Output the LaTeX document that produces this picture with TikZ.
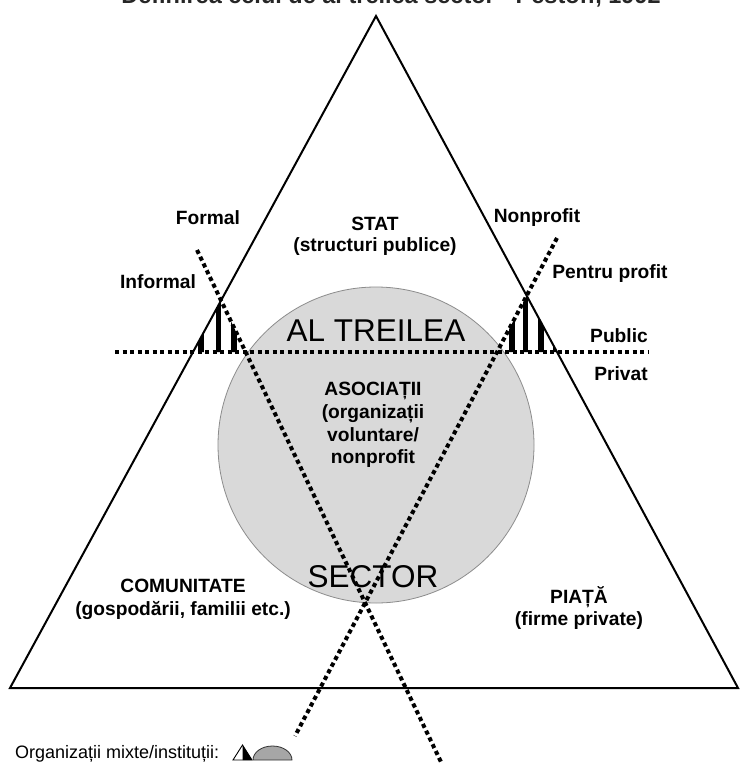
\documentclass[tikz,border=0pt]{standalone}
\usepackage{fontspec}
\setmainfont{Liberation Sans}
\definecolor{circfill}{HTML}{D9D9D9}
\definecolor{circline}{HTML}{8C8C8C}
\definecolor{iconfill}{HTML}{A6A6A6}
\begin{document}
\begin{tikzpicture}[x=1pt,y=-1pt,
  lbl/.style={font=\fontsize{19.2}{22}\selectfont\bfseries, inner sep=0pt, anchor=base},
  big/.style={font=\fontsize{31.5}{34}\selectfont, inner sep=0pt, anchor=base},
  dotline/.style={line width=4pt, dash pattern=on 4.2pt off 3.3pt, black},
  sideline/.style={line width=2pt, black, line join=miter},
  stripe/.style={line width=5.5pt, black}]
\useasboundingbox (0,0) rectangle (740,775);
\fill[white] (0,0) rectangle (740,775);

% corners of the big triangle
\coordinate (apex) at (376,16);
\coordinate (bl) at (10,688);
\coordinate (br) at (738,688);
% dividers: formal/informal, nonprofit/for profit, public/private
\coordinate (fa) at (197,250);
\coordinate (fb) at (441,762);
\coordinate (na) at (557,238);
\coordinate (nb) at (295,736);
\coordinate (pa) at (115,352);
\coordinate (pb) at (648,352);

% the third sector
\fill[circfill] (376,445) circle [radius=158pt];
\draw[circline, line width=0.8pt] (376,445) circle [radius=158pt];

% the big triangle
\draw[sideline] (apex) -- (bl) -- (br) -- cycle;

% hatched corners: mixed organisations
\coordinate (lh) at (intersection of apex--bl and fa--fb);
\coordinate (lhl) at (intersection of apex--bl and pa--pb);
\coordinate (lhr) at (intersection of fa--fb and pa--pb);
\begin{scope}
  \clip (lh) -- (lhl) -- (lhr) -- cycle;
  \foreach \x in {201,218.5,234}
    \draw[stripe] (\x,280) -- (\x,360);
\end{scope}
\coordinate (rh) at (intersection of apex--br and na--nb);
\coordinate (rhl) at (intersection of na--nb and pa--pb);
\coordinate (rhr) at (intersection of apex--br and pa--pb);
\begin{scope}
  \clip (rh) -- (rhl) -- (rhr) -- cycle;
  \foreach \x in {512,525.5,541,556}
    \draw[stripe] (\x,280) -- (\x,360);
\end{scope}

% dotted dividers
\draw[dotline] (pa) -- (pb);
\draw[dotline] (fa) -- (fb);
\draw[dotline] (na) -- (nb);

% title
\node[font=\fontsize{23.5}{26}\selectfont\bfseries, inner sep=0pt, anchor=base, text=black!85] (title) at (391,4) {Definirea celui de al treilea sector - Pestoff, 1992};

% labels
\node[lbl] (formal) at (208,225) {Formal};
\node[lbl] (informal) at (158,288) {Informal};
\node[lbl] (stat1) at (375,231) {STAT};
\node[lbl] (stat2) at (375,252) {(structuri publice)};
\node[lbl] (nonprofit) at (537,223) {Nonprofit};
\node[lbl] (profit) at (610,278) {Pentru profit};
\node[lbl] (public) at (619,342) {Public};
\node[lbl] (privat) at (621,380) {Privat};

\node[big] (altreilea) at (376,341) {AL TREILEA};
\node[big] (sector) at (373,587) {SECTOR};

\node[lbl] (asoc1) at (373,395) {ASOCIAȚII};
\node[lbl] (asoc2) at (373,418) {(organizații};
\node[lbl] (asoc3) at (373,441) {voluntare/};
\node[lbl] (asoc4) at (373,463) {nonprofit};

\node[lbl] (com1) at (183,592) {COMUNITATE};
\node[lbl] (com2) at (183,615) {(gospodării, familii etc.)};

\node[lbl] (piata1) at (579,603) {PIAȚĂ};
\node[lbl] (piata2) at (579,625) {(firme private)};

% legend
\node[font=\fontsize{18}{20}\selectfont, inner sep=0pt, anchor=base west] (legend) at (15,758) {Organizații mixte/instituții:};
\coordinate (ta) at (242.5,745);
\coordinate (tl) at (233,760);
\coordinate (tr) at (252,760);
\coordinate (tm) at (242.5,760);
\fill[black] (ta) -- (tm) -- (tr) -- cycle;
\draw[line width=0.9pt, line join=miter] (ta) -- (tl) -- (tr) -- cycle;
\filldraw[fill=iconfill, draw=black!80, line width=0.8pt] (253,760) arc [start angle=180, end angle=0, x radius=19.5pt, y radius=14pt] -- cycle;
\end{tikzpicture}
\end{document}
